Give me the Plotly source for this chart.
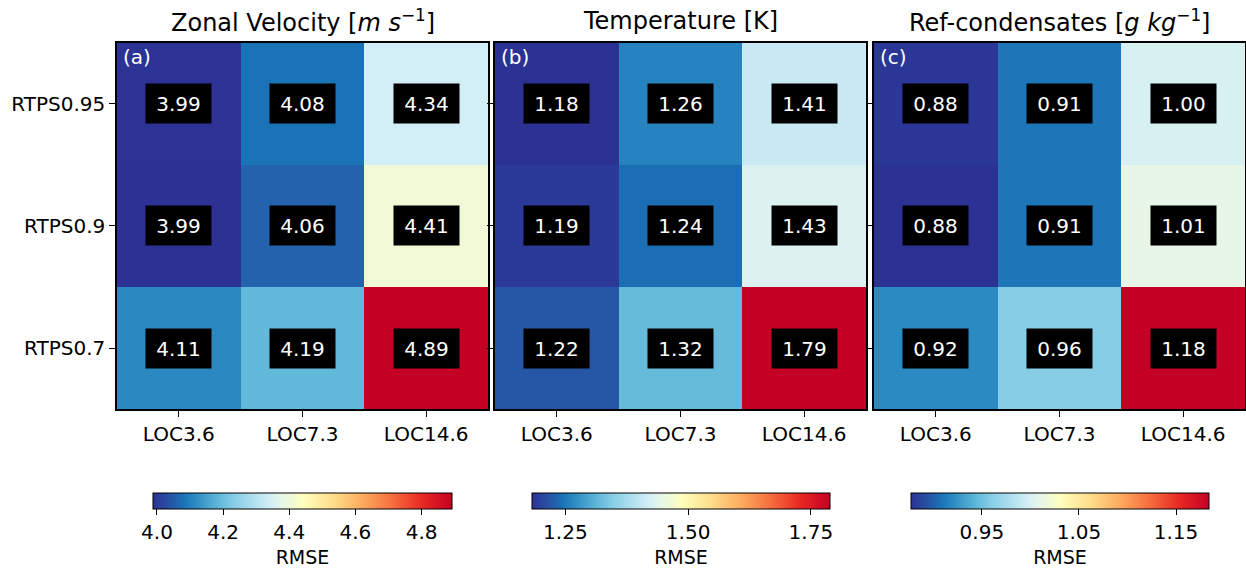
import plotly.graph_objects as go

# ---- data ----
locs = ["LOC3.6", "LOC7.3", "LOC14.6"]
rtps = ["RTPS0.95", "RTPS0.9", "RTPS0.7"]

u_rmse = [[3.99, 4.08, 4.34],
          [3.988, 4.06, 4.41],
          [4.11, 4.19, 4.892]]
t_rmse = [[1.182, 1.26, 1.41],
          [1.19, 1.24, 1.43],
          [1.22, 1.32, 1.789]]
q_rmse = [[0.88, 0.91, 1.00],
          [0.877, 0.91, 1.01],
          [0.92, 0.96, 1.184]]

titles = ["Zonal Velocity [<i>m s</i><sup>−1</sup>]",
          "Temperature [K]",
          "Ref-condensates [<i>g kg</i><sup>−1</sup>]"]
panel_labels = ["(a)", "(b)", "(c)"]
cbar_ticks = [[4.0, 4.2, 4.4, 4.6, 4.8],
              [1.25, 1.50, 1.75],
              [0.95, 1.05, 1.15]]
cbar_fmt = [".1f", ".2f", ".2f"]

# ---- style ----
W, H = 1246, 568
FONT = "DejaVu Sans"
cscale = [
    [0.00, "rgb(44,50,148)"],
    [0.05, "rgb(40,78,162)"],
    [0.08, "rgb(35,98,172)"],
    [0.10, "rgb(26,114,182)"],
    [0.14, "rgb(44,138,194)"],
    [0.22, "rgb(96,184,217)"],
    [0.27, "rgb(135,205,230)"],
    [0.39, "rgb(210,238,246)"],
    [0.43, "rgb(230,246,232)"],
    [0.47, "rgb(242,250,212)"],
    [0.50, "rgb(255,255,190)"],
    [0.60, "rgb(254,222,140)"],
    [0.70, "rgb(253,172,95)"],
    [0.80, "rgb(246,110,62)"],
    [0.90, "rgb(232,40,35)"],
    [1.00, "rgb(196,0,36)"],
]

px_x = [(117, 488), (495, 866), (874, 1245)]
y_top, y_bot = 43, 413
cb_x = [(153, 452), (532, 830), (911, 1209)]
cb_top, cb_th = 497, 16

datasets = [u_rmse, t_rmse, q_rmse]

fig = go.Figure()
layout = dict(
    width=W, height=H,
    margin=dict(l=0, r=0, t=0, b=0),
    paper_bgcolor="white", plot_bgcolor="white",
    font=dict(family=FONT, size=20, color="black"),
    showlegend=False,
)
annotations = []

for i, z in enumerate(datasets):
    sfx = "" if i == 0 else str(i + 1)
    xa, ya = "x" + sfx, "y" + sfx
    ca = "coloraxis" + sfx
    fig.add_trace(go.Heatmap(
        z=z, x=locs, y=rtps, coloraxis=ca, xaxis=xa, yaxis=ya,
        hoverinfo="skip", zsmooth=False,
    ))
    zflat = [v for row in z for v in row]
    x0, x1 = px_x[i]
    layout["xaxis" + sfx] = dict(
        domain=[x0 / W, x1 / W], anchor=ya,
        showline=True, linecolor="black", linewidth=1.5, mirror=True,
        ticks="outside", ticklen=6, tickcolor="black", tickwidth=1,
        showgrid=False, zeroline=False, tickfont=dict(size=20),
        type="category",
    )
    layout["yaxis" + sfx] = dict(
        domain=[1 - y_bot / H, 1 - y_top / H], anchor=xa,
        showline=True, linecolor="black", linewidth=1.5, mirror=True,
        ticks="outside", ticklen=6, tickcolor="black", tickwidth=1,
        showgrid=False, zeroline=False, tickfont=dict(size=20),
        showticklabels=(i == 0), autorange="reversed", type="category",
    )
    c0, c1 = cb_x[i]
    layout[ca] = dict(
        colorscale=cscale, cmin=min(zflat), cmax=max(zflat),
        colorbar=dict(
            orientation="h", x=(c0 + c1) / 2 / W, xanchor="center",
            y=1 - cb_top / H, yanchor="top",
            len=c1 - c0, lenmode="pixels",
            thickness=cb_th, thicknessmode="pixels",
            xpad=0, ypad=0,
            outlinecolor="black", outlinewidth=1,
            tickvals=cbar_ticks[i], tickformat=cbar_fmt[i],
            ticks="outside", ticklen=6, tickcolor="black",
            tickfont=dict(size=20, family=FONT),
            title=dict(text="RMSE", side="bottom", font=dict(size=19, family=FONT)),
        ),
    )
    # cell value boxes
    for r, row in enumerate(z):
        for c, v in enumerate(row):
            annotations.append(dict(
                x=locs[c], y=rtps[r], xref=xa, yref=ya,
                text=f"{v:.2f}", showarrow=False,
                font=dict(color="white", size=20, family=FONT),
                bgcolor="black", width=63, height=37,
                align="center", valign="middle",
            ))
    # panel label
    annotations.append(dict(
        x=0.010, y=0.998, xref=xa + " domain", yref=ya + " domain",
        xanchor="left", yanchor="top", text=panel_labels[i], showarrow=False,
        font=dict(color="white", size=20, family=FONT),
    ))
    # title
    annotations.append(dict(
        x=(x0 + x1) / 2 / W, y=1 - 21 / H, xref="paper", yref="paper",
        xanchor="center", yanchor="middle", text=titles[i], showarrow=False,
        font=dict(color="black", size=24, family=FONT),
    ))

layout["annotations"] = annotations
fig.update_layout(**layout)
fig.write_html("out.html")
